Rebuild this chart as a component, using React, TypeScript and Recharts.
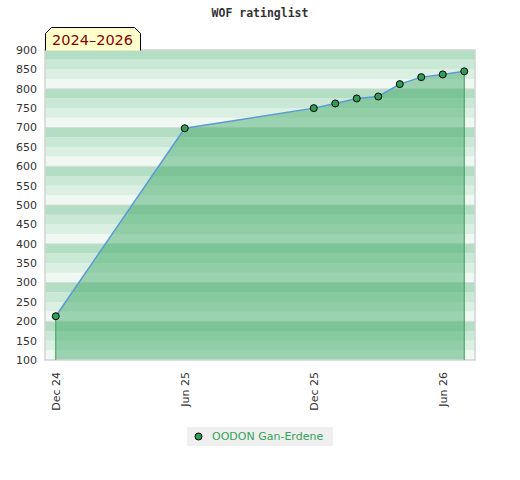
import React from 'react';
import {
  ComposedChart,
  Area,
  XAxis,
  YAxis,
  ReferenceArea,
  ReferenceLine,
} from 'recharts';

// ---- data ----
const monthIndex = [0, 6, 12, 13, 14, 15, 16, 17, 18, 19];
const ratings = [213, 698, 750, 762, 775, 780, 812, 830, 837, 845];
const xTickIndex = [0, 6, 12, 18];
const xTickLabels = ['Dec 24', 'Jun 25', 'Dec 25', 'Jun 26'];
const yTicks = [100, 150, 200, 250, 300, 350, 400, 450, 500, 550, 600, 650, 700, 750, 800, 850, 900];
const seriesName = 'OODON Gan-Erdene';
const title = 'WOF ratinglist';
const periodLabel = '2024\u20132026';

const data = monthIndex.map((m, i) => ({ m, r: ratings[i] }));

const bandColor = (lo: number) => {
  const k = lo % 100;
  if (k === 75) return '#b3dec4';
  if (k === 50) return '#c9e8d5';
  if (k === 25) return '#dcefe3';
  return '#eff8f2';
};
const bands: number[] = [];
for (let v = 100; v < 900; v += 25) bands.push(v);
const hundreds = [200, 300, 400, 500, 600, 700, 800];

const W = 520;
const H = 480;
const LEFT = 45;
const RIGHT = 475;
const TOP = 50;

const XTick = (props: any) => {
  const { x, payload } = props;
  const idx = xTickIndex.indexOf(payload.value);
  return (
    <g transform={`translate(${x},372) rotate(-90)`}>
      <text x={0} y={0} dy="0.35em" textAnchor="end" fontSize={11} fill="#333" fontFamily="DejaVu Sans">
        {idx >= 0 ? xTickLabels[idx] : ''}
      </text>
    </g>
  );
};

const RightTick = (props: any) => {
  const { y, payload } = props;
  const v = payload.value;
  return (
    <g>
      {v !== 100 && v !== 900 ? (
        <line x1={RIGHT - 4} x2={RIGHT - 1} y1={y} y2={y} stroke="#000" strokeWidth={1} />
      ) : null}
      {v % 100 === 0 ? (
        <text x={482} y={y} dy="0.35em" textAnchor="start" fontSize={11} fill="#111" fontFamily="DejaVu Sans">
          {v}
        </text>
      ) : null}
    </g>
  );
};

export default function App() {
  const first = data[0];
  const last = data[data.length - 1];
  return (
    <div style={{ position: 'absolute', left: 0, top: 0, width: W, height: H, background: '#fff' }}>
      <ComposedChart
        width={W}
        height={H}
        data={data}
        margin={{ top: TOP, right: 0, bottom: 60, left: 0 }}
      >
        <XAxis
          dataKey="m"
          type="number"
          domain={[-0.5, 19.5]}
          ticks={xTickIndex}
          tick={<XTick />}
          tickLine={false}
          axisLine={false}
          height={60}
          interval={0}
        />
        <YAxis
          yAxisId="left"
          orientation="left"
          type="number"
          domain={[100, 900]}
          ticks={yTicks}
          interval={0}
          width={LEFT}
          tickLine={false}
          axisLine={false}
          tick={{ fontSize: 11, fill: '#333', fontFamily: 'DejaVu Sans' }}
        />
        <YAxis
          yAxisId="right"
          orientation="right"
          type="number"
          domain={[100, 900]}
          ticks={yTicks}
          interval={0}
          width={W - RIGHT}
          tickLine={false}
          axisLine={false}
          tick={<RightTick />}
        />
        {bands.map((lo) => (
          <ReferenceArea
            key={lo}
            yAxisId="left"
            y1={lo}
            y2={lo + 25}
            x1={-0.5}
            x2={19.5}
            fill={bandColor(lo)}
            fillOpacity={1}
            stroke="none"
            ifOverflow="hidden"
          />
        ))}
        {hundreds.map((v) => (
          <ReferenceArea
            key={'g' + v}
            yAxisId="left"
            y1={v - 1.3}
            y2={v + 1.3}
            x1={-0.5}
            x2={19.5}
            fill="#d8dcd9"
            fillOpacity={1}
            stroke="none"
          />
        ))}
        <Area
          yAxisId="left"
          type="linear"
          dataKey="r"
          baseValue={100}
          stroke="#5b9bd5"
          strokeWidth={1.5}
          fill="#3da763"
          fillOpacity={0.47}
          isAnimationActive={false}
          dot={false}
          activeDot={false}
        />
        <ReferenceLine
          yAxisId="left"
          segment={[{ x: first.m, y: 100 }, { x: first.m, y: first.r }]}
          stroke="#3a9e5a"
          strokeWidth={1}
        />
        <ReferenceLine
          yAxisId="left"
          segment={[{ x: last.m, y: 100 }, { x: last.m, y: last.r }]}
          stroke="#3a9e5a"
          strokeWidth={1}
        />
        <Area
          yAxisId="left"
          type="linear"
          dataKey="r"
          stroke="none"
          fill="none"
          isAnimationActive={false}
          dot={{ r: 3.5, fill: '#2e9e58', stroke: '#000', strokeWidth: 1, fillOpacity: 1 }}
          activeDot={false}
          legendType="none"
        />
        <ReferenceArea
          yAxisId="left"
          y1={100}
          y2={900}
          x1={-0.5}
          x2={19.5}
          fill="none"
          stroke="#d4d4d4"
          strokeWidth={1.5}
        />
      </ComposedChart>
      <svg style={{ position: 'absolute', left: 0, top: 0 }} width={W} height={TOP + 1}>
        <text
          x={260}
          y={17}
          textAnchor="middle"
          fontSize={11.5}
          fontWeight="bold"
          fill="#333"
          fontFamily="DejaVu Sans Mono"
        >
          {title}
        </text>
        <path
          d={`M${LEFT + 0.5},${TOP + 0.5} L${LEFT + 0.5},33.5 L51.5,27.5 L134.5,27.5 L140.5,33.5 L140.5,${TOP + 0.5}`}
          fill="#ffffcc"
          stroke="#000"
          strokeWidth={1}
        />
        <text x={52} y={45} fontSize={14.5} fill="#8b0000" fontFamily="DejaVu Sans">
          {periodLabel}
        </text>
      </svg>
      <div
        style={{
          position: 'absolute',
          left: 187,
          top: 427,
          width: 146,
          height: 19,
          background: '#efefef',
          display: 'flex',
          alignItems: 'center',
          fontFamily: 'DejaVu Sans',
          fontSize: 11,
          color: '#33a357',
        }}
      >
        <svg width={25} height={19}>
          <circle cx={11.5} cy={9.5} r={3.5} fill="#2e9e58" stroke="#000" strokeWidth={1} />
        </svg>
        <span>{seriesName}</span>
      </div>
    </div>
  );
}
